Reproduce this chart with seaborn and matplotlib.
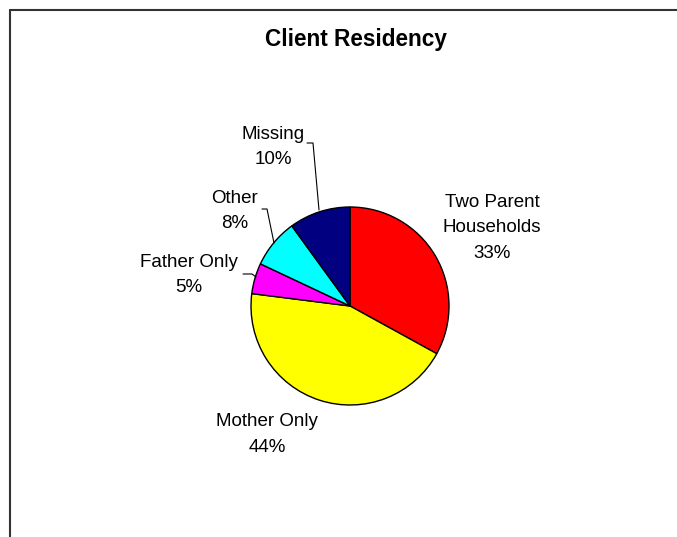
import matplotlib
matplotlib.use("Agg")
import matplotlib.pyplot as plt
import seaborn as sns

sns.set_theme(style="white")
plt.rcParams["font.family"] = ["Liberation Sans", "DejaVu Sans"]

categories = ["Two Parent\nHouseholds", "Mother Only", "Father Only", "Other", "Missing"]
shares = [33, 44, 5, 8, 10]
colors = ["#FF0000", "#FFFF00", "#FF00FF", "#00FFFF", "#000080"]

W, H = 677, 537
fig = plt.figure(figsize=(W / 100, H / 100), dpi=100)
ax = fig.add_axes([0, 0, 1, 1])

# pie drawn in pixel space (y axis points down, so it runs clockwise on screen)
cx, cy, r = 350, 306, 99
ax.pie(shares, colors=colors, startangle=-90, counterclock=True,
       center=(cx, cy), radius=r,
       wedgeprops=dict(edgecolor="black", linewidth=1.0), frame=True)
ax.set_xlim(0, W)
ax.set_ylim(H, 0)
ax.set_aspect("equal")
ax.axis("off")

# category labels: (x centre, baseline of first line)
label_pos = {
    "Two Parent\nHouseholds": (492, 207),
    "Mother Only": (267, 426),
    "Father Only": (189, 267),
    "Other": (235, 203),
    "Missing": (273, 139),
}
step = 25.5
for cat, val in zip(categories, shares):
    x, y = label_pos[cat]
    lines = cat.split("\n") + [f"{val}%"]
    for i, line in enumerate(lines):
        ax.text(x, y + i * step, line, ha="center", va="baseline",
                fontsize=13.5, color="black")

# leader lines
leaders = [
    [(307, 143), (313, 143), (319, 210)],
    [(262, 209), (267, 209), (274, 243)],
    [(243, 274), (252, 274), (256, 277)],
]
for pts in leaders:
    xs, ys = zip(*pts)
    ax.plot(xs, ys, color="black", linewidth=0.8)

ax.text(356, 46, "Client Residency", ha="center", va="baseline",
        fontsize=16.3, fontweight="bold", color="black")

# chart frame (top and left edges)
ax.plot([9.5, W], [9.5, 9.5], color="#333333", linewidth=1.5, clip_on=False)
ax.plot([9.5, 9.5], [9.5, H], color="#333333", linewidth=1.5, clip_on=False)

fig.savefig("out.png", dpi=100)
